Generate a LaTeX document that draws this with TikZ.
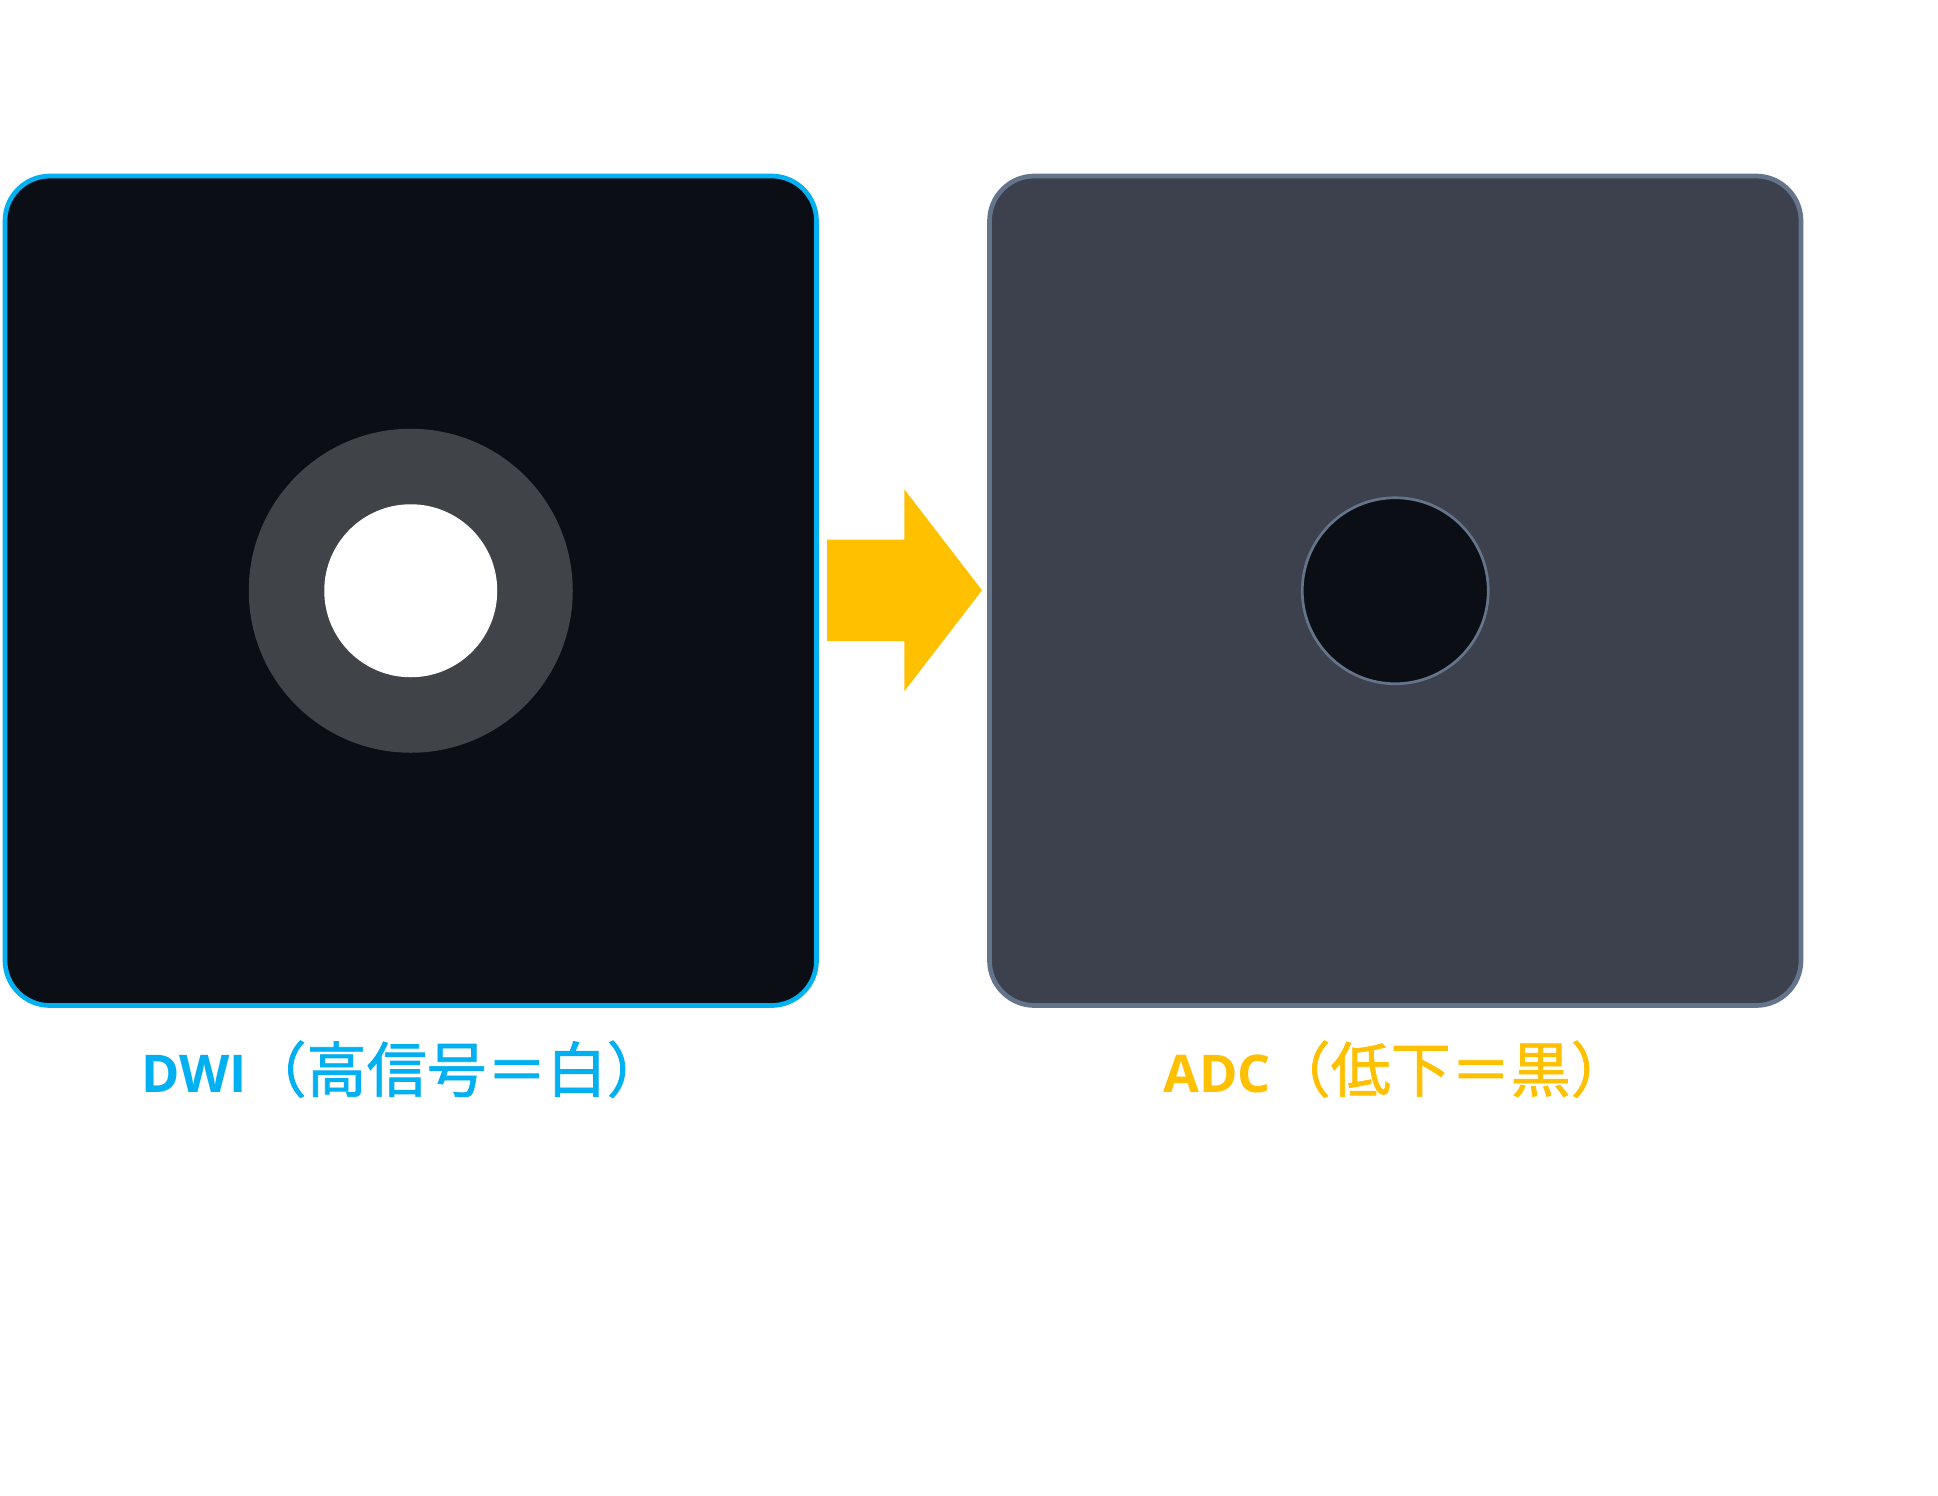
\documentclass[tikz,border=0pt]{standalone}
\usepackage{fontspec}
\setmainfont{Open Sans}
\newfontfamily\cjk[FakeBold=1.2]{Noto Sans CJK JP}
\definecolor{boxdark}{HTML}{0B0E14}
\definecolor{dwiblue}{HTML}{00B0F0}
\definecolor{ringgray}{HTML}{404449}
\definecolor{adcfill}{HTML}{3D414D}
\definecolor{slate}{HTML}{64748B}
\definecolor{arrowyellow}{HTML}{FFC000}
\tikzset{
  panel/.style={rectangle, rounded corners=45pt, inner sep=0pt, minimum width=811.5pt, minimum height=829.5pt},
  lbl/.style={anchor=base west, inner sep=0pt, font=\fontsize{52}{60}\selectfont\bfseries},
}
\newcommand{\cjktext}[1]{{\cjk\mdseries\fontsize{60}{60}\selectfont #1}}
\begin{document}
\begin{tikzpicture}[x=1pt,y=-1pt]
\useasboundingbox (0,0) rectangle (1938,1496);
\fill[white] (0,0) rectangle (1938,1496);
% DWI panel
\node[panel, draw=dwiblue, line width=4.7pt, fill=boxdark] (dwi) at (410.75,590.75) {};
\node[circle, inner sep=0pt, minimum size=324pt, fill=ringgray] (ring) at (dwi.center) {};
\node[circle, inner sep=0pt, minimum size=173pt, fill=white] (core) at (dwi.center) {};
% ADC panel
\node[panel, draw=slate, line width=4.7pt, fill=adcfill] (adc) at (1395.25,590.75) {};
\node[circle, inner sep=0pt, minimum size=186pt, fill=boxdark, draw=slate, line width=2.7pt] (dark) at (adc.center) {};
% arrow
\fill[arrowyellow] (827,539.7) -- (904.3,539.7) -- (904.3,489.3) -- (982,590.3) -- (904.3,691.3) -- (904.3,641) -- (827,641) -- cycle;
% labels
\node[lbl, text=dwiblue] (dwilbl) at (141,1092) {DWI\cjktext{（高信号＝白）}};
\node[lbl, text=arrowyellow] (adclbl) at (1163,1092) {ADC\cjktext{（低下＝黒）}};
\end{tikzpicture}
\end{document}
